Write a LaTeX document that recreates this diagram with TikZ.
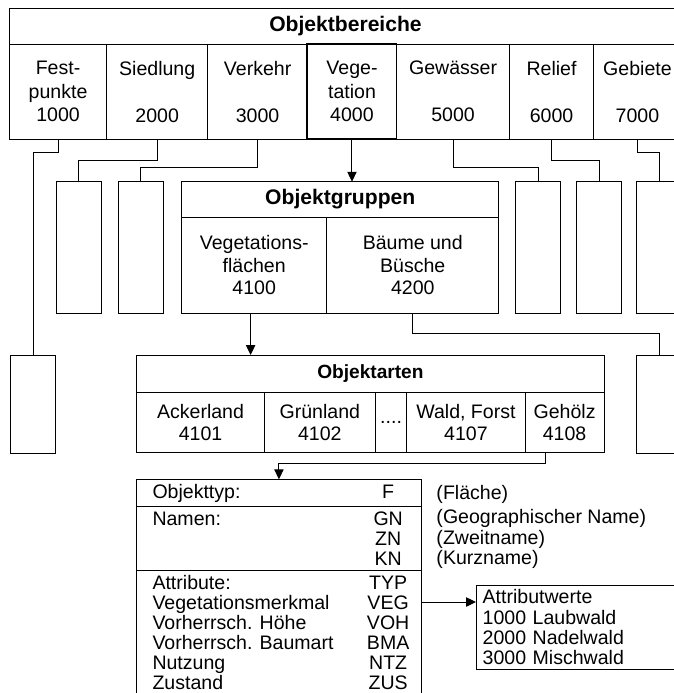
\documentclass[tikz,border=0pt]{standalone}
\usepackage{fontspec}
\setmainfont{Liberation Sans}
\usepackage{tikz}
\usetikzlibrary{arrows.meta,positioning}

\newcommand{\kzrow}[2]{\makebox[5.46cm][l]{#1}\makebox[0.86cm]{#2}}

\begin{document}
\begin{tikzpicture}[
    x=0.025cm, y=-0.025cm,
    line width=0.7pt,
    head/.style={draw, outer sep=0pt, font=\fontsize{15pt}{18pt}\selectfont\bfseries},
    cell/.style={draw, outer sep=0pt, inner sep=0pt, align=center,
                 font=\fontsize{13.9pt}{16.7pt}\selectfont},
    obcell/.style={cell, minimum height=2.3825cm},
    ogcell/.style={cell, minimum height=2.4cm, font=\fontsize{13.9pt}{16pt}\selectfont},
    oacell/.style={cell, minimum height=1.5cm, font=\fontsize{13.9pt}{15.4pt}\selectfont},
    emptybox/.style={draw, outer sep=0pt, minimum width=1.125cm, anchor=north west},
    sect/.style={draw, outer sep=0pt, align=left, inner xsep=0.395cm,
                 minimum width=7.1075cm, anchor=north west,
                 font=\fontsize{13.9pt}{14.4pt}\selectfont},
    arr/.style={-{Triangle[length=7pt,width=6.6pt]}}
]

%% Frame
\clip (0,0) rectangle (674,693);

%% Objektbereiche
\node[head, anchor=north west, minimum width=16.795cm, minimum height=0.8925cm]
  (ob_head) at (9.5,8.3) {Objektbereiche};
\node[obcell, anchor=north west, minimum width=2.4275cm] (ob_fest) at (ob_head.south west)
  {Fest-\\punkte\\1000};
\node[obcell, minimum width=2.5275cm, right=0pt of ob_fest] (ob_sied)
  {Siedlung\\\mbox{}\\2000};
\node[obcell, minimum width=2.4925cm, right=0pt of ob_sied] (ob_verk)
  {Verkehr\\\mbox{}\\3000};
\node[obcell, minimum width=2.225cm, line width=1.4pt, right=0pt of ob_verk] (ob_veg)
  {Vege-\\tation\\4000};
\node[obcell, minimum width=2.8275cm, right=0pt of ob_veg] (ob_gew)
  {Gewässer\\\mbox{}\\5000};
\node[obcell, minimum width=2.095cm, right=0pt of ob_gew] (ob_rel)
  {Relief\\\mbox{}\\6000};
\node[obcell, minimum width=2.2cm, right=0pt of ob_rel] (ob_geb)
  {Gebiete\\\mbox{}\\7000};

%% Empty boxes of the other areas
\node[emptybox, minimum height=3.29cm] (sub_sied) at (56,181.7) {};
\node[emptybox, minimum height=3.29cm] (sub_verk) at (118,181.7) {};
\node[emptybox, minimum height=3.29cm] (sub_gew) at (515.7,181.7) {};
\node[emptybox, minimum height=3.29cm] (sub_rel) at (576.7,181.7) {};
\node[emptybox, minimum height=3.29cm] (sub_geb) at (636.7,181.7) {};
\node[emptybox, minimum height=2.4575cm] (sub_fest) at (10.7,355) {};
\node[emptybox, minimum height=2.4575cm] (sub_baeume) at (636.7,355) {};

%% Objektgruppen
\node[head, anchor=north west, minimum width=7.925cm, minimum height=0.89cm]
  (og_head) at (181.7,181.7) {Objektgruppen};
\node[ogcell, anchor=north west, minimum width=3.625cm] (og_vfl) at (og_head.south west)
  {Vegetations-\\flächen\\4100};
\node[ogcell, minimum width=4.3cm, right=0pt of og_vfl] (og_bb)
  {Bäume und\\Büsche\\4200};

%% Objektarten
\node[head, anchor=north west, minimum width=11.6825cm, minimum height=0.9425cm,
      font=\fontsize{13.6pt}{16pt}\selectfont\bfseries]
  (oa_head) at (136.7,355) {Objektarten};
\node[oacell, anchor=north west, minimum width=3.19cm] (oa_acker) at (oa_head.south west)
  {Ackerland\\4101};
\node[oacell, minimum width=2.775cm, right=0pt of oa_acker] (oa_gruen) {Grünland\\4102};
\node[oacell, minimum width=0.785cm, right=0pt of oa_gruen] (oa_dots) {....};
\node[oacell, minimum width=2.9575cm, right=0pt of oa_dots] (oa_wald) {Wald, Forst\\4107};
\node[oacell, minimum width=1.975cm, right=0pt of oa_wald] (oa_geh) {Gehölz\\4108};

%% Objekttyp and attributes
\node[sect, minimum height=0.6425cm] (ot_typ) at (136.7,479.3)
  {\kzrow{Objekttyp:}{F}};
\node[sect, minimum height=1.5825cm] (ot_nam) at (ot_typ.south west)
  {\kzrow{Namen:}{GN}\\\kzrow{}{ZN}\\\kzrow{}{KN}};
\node[sect, inner ysep=0.12cm, font=\fontsize{13.9pt}{14.2pt}\selectfont]
  (ot_att) at (ot_nam.south west)
  {\kzrow{Attribute:}{TYP}\\
   \kzrow{Vegetationsmerkmal}{VEG}\\
   \kzrow{Vorherrsch. Höhe}{VOH}\\
   \kzrow{Vorherrsch. Baumart}{BMA}\\
   \kzrow{Nutzung}{NTZ}\\
   \kzrow{Zustand}{ZUS}};
\node[anchor=north west, inner sep=0pt, align=left,
      font=\fontsize{13.9pt}{14.4pt}\selectfont] (ot_note) at (436,485)
  {(Fläche)\\[2.8pt](Geographischer Name)\\(Zweitname)\\(Kurzname)};

%% Attributwerte
\node[draw, outer sep=0pt, anchor=north west, align=left, text width=5.2cm,
      inner xsep=0.1675cm, minimum height=2.0425cm,
      font=\fontsize{13.9pt}{14.4pt}\selectfont] (aw) at (476,585)
  {Attributwerte\\1000 Laubwald\\2000 Nadelwald\\3000 Mischwald};

%% Connectors
\draw (ob_fest.south) -- ++(0,13.4) -| (sub_fest.north);
\draw (ob_sied.south) -- ++(0,20.7) -| (sub_sied.north);
\draw (ob_verk.south) -- ++(0,28) -| (sub_verk.north);
\draw[arr] (ob_veg.south) -- (ob_veg.south |- og_head.north);
\draw (ob_gew.south) -- ++(0,28) -| (sub_gew.north);
\draw (ob_rel.south) -- ++(0,20.7) -| (sub_rel.north);
\draw (ob_geb.south) -- ++(0,13.4) -| (sub_geb.north);

\coordinate (vfl_out) at ([xshift=-0.09cm]og_vfl.south);
\draw[arr] (vfl_out) -- (vfl_out |- oa_head.north);
\draw (og_bb.south) -- ++(0,20) -| (sub_baeume.north);

\coordinate (geh_out) at ([xshift=-0.47cm]oa_geh.south);
\draw[arr] (geh_out) -- ++(0,10.6) -| (ot_typ.north);

\coordinate (veg_in) at ([yshift=-0.425cm]aw.north west);
\draw[arr] (ot_att.east |- veg_in) -- (veg_in);

\end{tikzpicture}
\end{document}
